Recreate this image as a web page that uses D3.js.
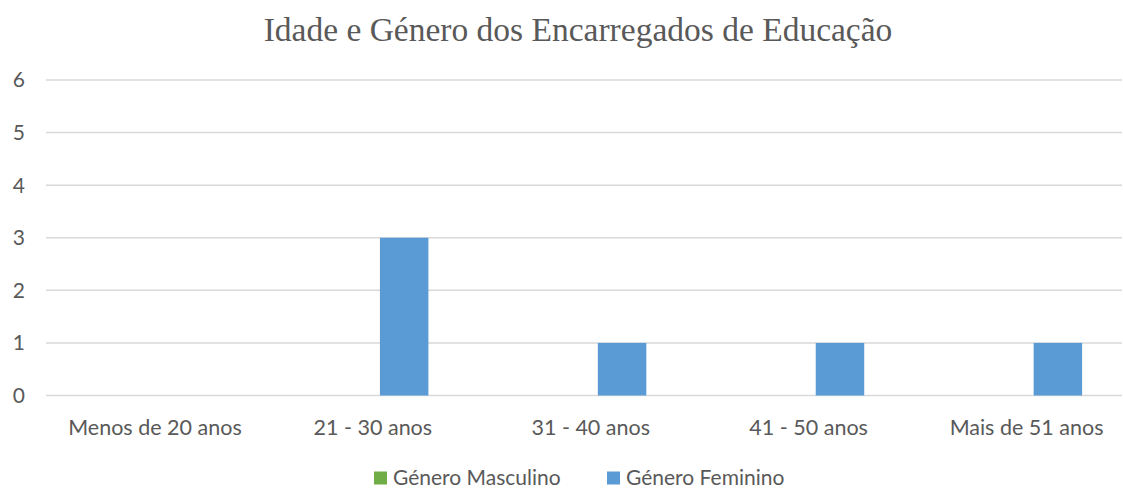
<!DOCTYPE html>
<html>
<head>
<meta charset="utf-8">
<script src="https://cdn.jsdelivr.net/npm/d3@7"></script>
<style>
  body { margin: 0; background: #fff; }
  svg { display: block; }
  text { fill: #595959; }
</style>
</head>
<body>
<script>
const categories = ["Menos de 20 anos", "21 - 30 anos", "31 - 40 anos", "41 - 50 anos", "Mais de 51 anos"];
const seriesNames = ["Género Masculino", "Género Feminino"];
const masculino = [0, 0, 0, 0, 0];
const feminino = [0, 3, 1, 1, 1];
const yTicks = [0, 1, 2, 3, 4, 5, 6];
const colors = ["#70AD47", "#5B9BD5"];

const width = 1123, height = 488;
const labelFont = "Lato, 'Open Sans', sans-serif";

const svg = d3.select("body").append("svg")
  .attr("width", width)
  .attr("height", height);

// title
svg.append("text")
  .attr("x", 578)
  .attr("y", 41)
  .attr("text-anchor", "middle")
  .style("font-family", "'Liberation Serif', 'DejaVu Serif', serif")
  .style("font-size", "33.5px")
  .text("Idade e Género dos Encarregados de Educação");

const gridLeft = 46, gridRight = 1122;

const x0 = d3.scaleBand()
  .domain(categories)
  .range([46, 46 + 5 * 217.9]);

const x1 = d3.scaleBand()
  .domain(seriesNames)
  .range([x0.bandwidth() * 0.31, x0.bandwidth() * 0.755]);

const y = d3.scaleLinear()
  .domain([0, 6])
  .range([395.5, 80]);

// gridlines
svg.append("g")
  .selectAll("line")
  .data(yTicks)
  .join("line")
  .attr("x1", gridLeft)
  .attr("x2", gridRight)
  .attr("y1", d => y(d))
  .attr("y2", d => y(d))
  .attr("stroke", "#d9d9d9")
  .attr("stroke-width", 1.5);

// y tick labels
svg.append("g")
  .selectAll("text")
  .data(yTicks)
  .join("text")
  .attr("x", 25)
  .attr("y", d => y(d))
  .attr("dy", "0.35em")
  .attr("text-anchor", "end")
  .style("font-family", labelFont)
  .style("font-size", "21px")
  .text(d => d);

// bars
const rows = categories.map((c, i) => ({ cat: c, values: [masculino[i], feminino[i]] }));
svg.append("g")
  .selectAll("g")
  .data(rows)
  .join("g")
  .attr("transform", d => `translate(${x0(d.cat)},0)`)
  .selectAll("rect")
  .data(d => d.values.map((v, j) => ({ name: seriesNames[j], v, j })))
  .join("rect")
  .attr("x", d => x1(d.name))
  .attr("width", x1.bandwidth())
  .attr("y", d => y(d.v))
  .attr("height", d => y(0) - y(d.v))
  .attr("fill", d => colors[d.j]);

// x labels
svg.append("g")
  .selectAll("text")
  .data(categories)
  .join("text")
  .attr("x", d => x0(d) + x0.bandwidth() / 2)
  .attr("y", 435)
  .attr("text-anchor", "middle")
  .style("font-family", labelFont)
  .style("font-size", "21.5px")
  .text(d => d);

// legend
const legendX = [374, 607];
const legend = svg.append("g")
  .selectAll("g")
  .data(seriesNames)
  .join("g")
  .attr("transform", (d, i) => `translate(${legendX[i]},478)`);
legend.append("rect")
  .attr("x", 0)
  .attr("y", -6.5)
  .attr("width", 13)
  .attr("height", 13)
  .attr("fill", (d, i) => colors[i]);
legend.append("text")
  .attr("x", 19)
  .attr("dy", "0.35em")
  .style("font-family", labelFont)
  .style("font-size", "21px")
  .text(d => d);
</script>
</body>
</html>
